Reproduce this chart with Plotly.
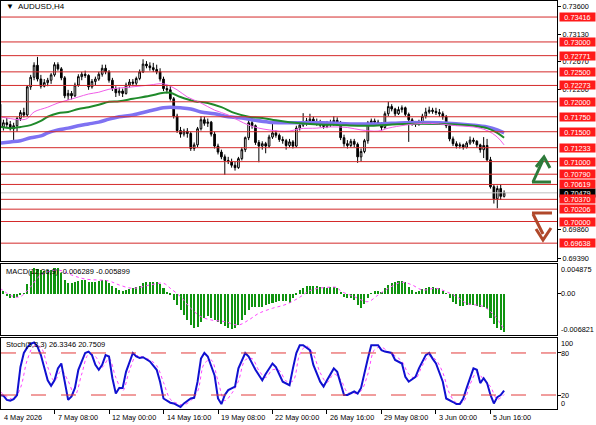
import plotly.graph_objects as go

FONT = "Liberation Sans, Arial, sans-serif"

# H4 bars, index 0 = first bar on the chart (4 May 2026)
opens = [
    0.7196, 0.7158, 0.7165, 0.7162, 0.7155, 0.7160, 0.7172, 0.7182, 0.7178, 0.7225,
    0.7241, 0.7261, 0.7238, 0.7226, 0.7232, 0.7236, 0.7245, 0.7262, 0.7255, 0.7240,
    0.7210, 0.7214, 0.7210, 0.7228, 0.7242, 0.7246, 0.7244, 0.7225, 0.7234, 0.7238,
    0.7246, 0.7256, 0.7250, 0.7236, 0.7222, 0.7215, 0.7218, 0.7214, 0.7228, 0.7233,
    0.7231, 0.7239, 0.7250, 0.7263, 0.7260, 0.7257, 0.7254, 0.7250, 0.7238, 0.7222,
    0.7220, 0.7205, 0.7176, 0.7152, 0.7146, 0.7151, 0.7147, 0.7122, 0.7128, 0.7155,
    0.7170, 0.7164, 0.7166, 0.7146, 0.7126, 0.7116, 0.7108, 0.7102, 0.7100, 0.7094,
    0.7090, 0.7105, 0.7120, 0.7140, 0.7165, 0.7160, 0.7132, 0.7126, 0.7130, 0.7126,
    0.7141, 0.7148, 0.7144, 0.7137, 0.7135, 0.7127, 0.7133, 0.7126, 0.7156, 0.7161,
    0.7166, 0.7168, 0.7171, 0.7167, 0.7165, 0.7161, 0.7159, 0.7164, 0.7163, 0.7169,
    0.7165, 0.7140, 0.7130, 0.7127, 0.7134, 0.7129, 0.7108, 0.7117, 0.7135, 0.7165,
    0.7168, 0.7166, 0.7164, 0.7157, 0.7180, 0.7192, 0.7188, 0.7180, 0.7187, 0.7190,
    0.7179, 0.7170, 0.7165, 0.7163, 0.7167, 0.7176, 0.7183, 0.7186, 0.7184, 0.7182,
    0.7180, 0.7175, 0.7160, 0.7138, 0.7130, 0.7126, 0.7128, 0.7124, 0.7131, 0.7136,
    0.7134, 0.7128, 0.7120, 0.7127, 0.7103, 0.7058, 0.7038, 0.7055, 0.7042,
]
highs = [
    0.7200, 0.7170, 0.7173, 0.7168, 0.7165, 0.7175, 0.7186, 0.7190, 0.7228, 0.7245,
    0.7266, 0.7275, 0.7245, 0.7238, 0.7240, 0.7248, 0.7266, 0.7266, 0.7258, 0.7243,
    0.7220, 0.7218, 0.7232, 0.7246, 0.7250, 0.7252, 0.7246, 0.7238, 0.7242, 0.7250,
    0.7262, 0.7262, 0.7253, 0.7240, 0.7226, 0.7224, 0.7222, 0.7232, 0.7238, 0.7238,
    0.7242, 0.7254, 0.7271, 0.7268, 0.7266, 0.7265, 0.7262, 0.7256, 0.7242, 0.7228,
    0.7226, 0.7208, 0.7180, 0.7158, 0.7155, 0.7156, 0.7150, 0.7132, 0.7158, 0.7176,
    0.7175, 0.7172, 0.7168, 0.7150, 0.7130, 0.7120, 0.7112, 0.7108, 0.7105, 0.7100,
    0.7108, 0.7124, 0.7142, 0.7170, 0.7168, 0.7162, 0.7136, 0.7134, 0.7133, 0.7145,
    0.7166, 0.7152, 0.7147, 0.7142, 0.7138, 0.7138, 0.7136, 0.7160, 0.7166, 0.7181,
    0.7173, 0.7180, 0.7175, 0.7172, 0.7170, 0.7166, 0.7168, 0.7170, 0.7176, 0.7174,
    0.7168, 0.7145, 0.7136, 0.7138, 0.7138, 0.7132, 0.7122, 0.7138, 0.7168, 0.7172,
    0.7172, 0.7170, 0.7166, 0.7184, 0.7200, 0.7196, 0.7190, 0.7192, 0.7194, 0.7192,
    0.7182, 0.7173, 0.7168, 0.7170, 0.7180, 0.7190, 0.7192, 0.7190, 0.7190, 0.7188,
    0.7184, 0.7178, 0.7162, 0.7142, 0.7134, 0.7132, 0.7130, 0.7134, 0.7142, 0.7140,
    0.7136, 0.7130, 0.7141, 0.7138, 0.7108, 0.7062, 0.7060, 0.7062, 0.7052,
]
lows = [
    0.7155, 0.7152, 0.7158, 0.7152, 0.7133, 0.7150, 0.7168, 0.7174, 0.7175, 0.7220,
    0.7236, 0.7234, 0.7222, 0.7224, 0.7226, 0.7230, 0.7242, 0.7252, 0.7236, 0.7206,
    0.7203, 0.7204, 0.7208, 0.7225, 0.7236, 0.7240, 0.7220, 0.7222, 0.7228, 0.7235,
    0.7242, 0.7246, 0.7232, 0.7218, 0.7208, 0.7210, 0.7208, 0.7212, 0.7224, 0.7226,
    0.7228, 0.7236, 0.7248, 0.7256, 0.7252, 0.7250, 0.7246, 0.7234, 0.7218, 0.7214,
    0.7202, 0.7172, 0.7148, 0.7140, 0.7142, 0.7140, 0.7118, 0.7118, 0.7124, 0.7152,
    0.7160, 0.7158, 0.7142, 0.7122, 0.7112, 0.7104, 0.7078, 0.7096, 0.7090, 0.7085,
    0.7088, 0.7102, 0.7116, 0.7136, 0.7155, 0.7128, 0.7099, 0.7120, 0.7114, 0.7123,
    0.7138, 0.7140, 0.7133, 0.7130, 0.7120, 0.7124, 0.7122, 0.7124, 0.7152, 0.7158,
    0.7160, 0.7164, 0.7163, 0.7160, 0.7158, 0.7155, 0.7156, 0.7158, 0.7160, 0.7160,
    0.7136, 0.7125, 0.7122, 0.7124, 0.7124, 0.7098, 0.7100, 0.7114, 0.7130, 0.7162,
    0.7161, 0.7160, 0.7152, 0.7155, 0.7176, 0.7184, 0.7176, 0.7178, 0.7182, 0.7176,
    0.7133, 0.7160, 0.7158, 0.7160, 0.7164, 0.7172, 0.7180, 0.7180, 0.7178, 0.7175,
    0.7170, 0.7156, 0.7134, 0.7126, 0.7122, 0.7122, 0.7120, 0.7122, 0.7128, 0.7130,
    0.7123, 0.7115, 0.7106, 0.7100, 0.7055, 0.7030, 0.7022, 0.7036, 0.7040,
]
closes = [
    0.7158, 0.7165, 0.7162, 0.7155, 0.7160, 0.7172, 0.7182, 0.7178, 0.7225, 0.7241,
    0.7261, 0.7238, 0.7226, 0.7232, 0.7236, 0.7245, 0.7262, 0.7255, 0.7240, 0.7210,
    0.7214, 0.7210, 0.7228, 0.7242, 0.7246, 0.7244, 0.7225, 0.7234, 0.7238, 0.7246,
    0.7256, 0.7250, 0.7236, 0.7222, 0.7215, 0.7218, 0.7214, 0.7228, 0.7233, 0.7231,
    0.7239, 0.7250, 0.7263, 0.7260, 0.7257, 0.7254, 0.7250, 0.7238, 0.7222, 0.7220,
    0.7205, 0.7176, 0.7152, 0.7146, 0.7151, 0.7147, 0.7122, 0.7128, 0.7155, 0.7170,
    0.7164, 0.7166, 0.7146, 0.7126, 0.7116, 0.7108, 0.7102, 0.7100, 0.7094, 0.7090,
    0.7105, 0.7120, 0.7140, 0.7165, 0.7160, 0.7132, 0.7126, 0.7130, 0.7126, 0.7141,
    0.7148, 0.7144, 0.7137, 0.7135, 0.7127, 0.7133, 0.7126, 0.7156, 0.7161, 0.7166,
    0.7168, 0.7171, 0.7167, 0.7165, 0.7161, 0.7159, 0.7164, 0.7163, 0.7169, 0.7165,
    0.7140, 0.7130, 0.7127, 0.7134, 0.7129, 0.7108, 0.7117, 0.7135, 0.7165, 0.7168,
    0.7166, 0.7164, 0.7157, 0.7180, 0.7192, 0.7188, 0.7180, 0.7187, 0.7190, 0.7179,
    0.7170, 0.7165, 0.7163, 0.7167, 0.7176, 0.7183, 0.7186, 0.7184, 0.7182, 0.7180,
    0.7175, 0.7160, 0.7138, 0.7130, 0.7126, 0.7128, 0.7124, 0.7131, 0.7136, 0.7134,
    0.7128, 0.7120, 0.7127, 0.7103, 0.7058, 0.7038, 0.7055, 0.7042, 0.70479,
]

# moving averages, read at a few bars
ma_fast_bar = [0, 3, 6, 8, 10, 14, 17, 20, 23, 26, 29, 32, 35, 39, 44, 48, 52, 55, 59, 63, 67,
               70, 73, 76, 79, 82, 85, 88, 93, 97, 102, 106, 111, 114, 119, 124, 129, 134,
               139, 143, 146, 148]
ma_fast_val = [0.7175, 0.7172, 0.7170, 0.7172, 0.7183, 0.7191, 0.7198, 0.7203, 0.7208, 0.7213,
               0.7216, 0.7221, 0.7223, 0.7225, 0.7228, 0.7230, 0.7220, 0.7208, 0.7198, 0.7186,
               0.7178, 0.7169, 0.7161, 0.7156, 0.7153, 0.7151, 0.7151, 0.7155, 0.7156, 0.7158,
               0.7157, 0.7153, 0.7151, 0.7156, 0.7161, 0.7164, 0.7163, 0.7160, 0.7158, 0.7152,
               0.7141, 0.7128]
ma_mid_bar = [0, 3, 6, 9, 12, 14, 17, 20, 23, 26, 29, 32, 35, 39, 44, 48, 50, 53, 57, 61, 65,
              69, 73, 77, 81, 85, 91, 100, 105, 109, 119, 129, 139, 143, 146, 148]
ma_mid_val = [0.7158, 0.7156, 0.7158, 0.7161, 0.7168, 0.7175, 0.7181, 0.7183, 0.7188, 0.7191,
              0.7195, 0.7200, 0.7201, 0.7205, 0.7210, 0.7215, 0.7215, 0.7208, 0.7201, 0.7198,
              0.7191, 0.7181, 0.7175, 0.7173, 0.7169, 0.7166, 0.7163, 0.7161, 0.7160, 0.7160,
              0.7163, 0.7163, 0.7160, 0.7156, 0.7148, 0.7140]
ma_slow_bar = [0, 3, 6, 9, 12, 14, 17, 20, 23, 26, 29, 32, 35, 39, 44, 48, 50, 53, 56, 59, 63,
               67, 71, 75, 79, 83, 88, 95, 103, 111, 119, 129, 139, 143, 146, 148]
ma_slow_val = [0.7131, 0.7133, 0.7135, 0.7140, 0.7143, 0.7148, 0.7153, 0.7156, 0.7160, 0.7163,
               0.7166, 0.7171, 0.7175, 0.7178, 0.7185, 0.7190, 0.7191, 0.7190, 0.7188, 0.7183,
               0.7180, 0.7175, 0.7173, 0.7169, 0.7166, 0.7165, 0.7165, 0.7165, 0.7163, 0.7163,
               0.7165, 0.7165, 0.7161, 0.7158, 0.7153, 0.7148]

# MACD(12,26,9): histogram per bar, signal read at a few bars
macd_hist = [
    0.00087, 0.00043, -0.00034, -0.00067, -0.00078, -0.00050, -0.00023, 0.00004, 0.00153, 0.00372,
    0.00416, 0.00405, 0.00389, 0.00372, 0.00389, 0.00389, 0.00416, 0.00416, 0.00334, 0.00224,
    0.00169, 0.00169, 0.00197, 0.00213, 0.00224, 0.00224, 0.00197, 0.00197, 0.00197, 0.00207,
    0.00224, 0.00224, 0.00169, 0.00131, 0.00087, 0.00059, 0.00043, 0.00059, 0.00076, 0.00098,
    0.00114, 0.00131, 0.00169, 0.00186, 0.00186, 0.00186, 0.00186, 0.00153, 0.00087, 0.00032,
    -0.00012, -0.00105, -0.00188, -0.00270, -0.00352, -0.00435, -0.00517, -0.00572, -0.00545, -0.00462,
    -0.00407, -0.00369, -0.00396, -0.00435, -0.00462, -0.00506, -0.00528, -0.00561, -0.00583, -0.00572,
    -0.00517, -0.00435, -0.00352, -0.00270, -0.00215, -0.00215, -0.00215, -0.00215, -0.00188, -0.00177,
    -0.00160, -0.00133, -0.00122, -0.00122, -0.00122, -0.00160, -0.00078, -0.00010, 0.00059, 0.00098,
    0.00120, 0.00131, 0.00131, 0.00120, 0.00109, 0.00103, 0.00098, 0.00103, 0.00109, 0.00087,
    0.00021, -0.00050, -0.00067, -0.00078, -0.00105, -0.00188, -0.00232, -0.00177, -0.00067, 0.00004,
    0.00043, 0.00043, 0.00032, 0.00087, 0.00142, 0.00169, 0.00186, 0.00207, 0.00213, 0.00197,
    0.00114, 0.00059, 0.00032, 0.00043, 0.00076, 0.00098, 0.00109, 0.00114, 0.00098, 0.00087,
    0.00043, -0.00001, -0.00078, -0.00133, -0.00177, -0.00199, -0.00199, -0.00188, -0.00188, -0.00188,
    -0.00199, -0.00215, -0.00215, -0.00254, -0.00396, -0.00506, -0.00561, -0.00599, -0.006289,
]
signal_bar = [0, 4, 6, 9, 12, 17, 21, 25, 32, 35, 39, 44, 48, 50, 53, 56, 59, 62, 66, 70, 73,
              76, 80, 84, 88, 90, 92, 95, 99, 100, 104, 108, 111, 114, 118, 121, 124, 128, 131,
              134, 137, 142, 145, 148]
signal_val = [0.00087, -0.00050, -0.00050, 0.00114, 0.00306, 0.00389, 0.00306, 0.00240, 0.00207,
              0.00142, 0.00087, 0.00142, 0.00169, 0.00087, -0.00050, -0.00242, -0.00380, -0.00435,
              -0.00462, -0.00517, -0.00435, -0.00325, -0.00242, -0.00177, -0.00060, 0.00020,
              0.00070, 0.00098, 0.00098, 0.00043, -0.00050, -0.00133, -0.00023, 0.00087, 0.00186,
              0.00142, 0.00059, 0.00087, 0.00032, -0.00050, -0.00160, -0.00215, -0.00352, -0.005899]

# Stochastic(5,3,3)
stoch_k_bar = [0, 1, 2, 3, 4, 5, 6, 7, 8, 9, 10, 11, 12, 13, 14, 15, 16, 17, 18, 19, 20, 21, 22,
               23, 25, 26, 27, 28, 29, 30, 31, 32, 33, 34, 35, 36, 37, 39, 40, 41, 42, 44, 46, 47,
               48, 50, 51, 53, 54, 56, 57, 58, 59, 60, 61, 63, 64, 65, 66, 67, 69, 70, 72, 73, 75,
               77, 78, 80, 81, 83, 85, 86, 87, 88, 89, 91, 92, 94, 95, 96, 98, 99, 101, 102, 104,
               105, 106, 108, 109, 111, 112, 113, 115, 116, 118, 119, 120, 122, 123, 125, 126,
               127, 128, 130, 131, 133, 134, 135, 136, 137, 139, 140, 141, 142, 143, 144, 145,
               146, 147, 148]
stoch_k_val = [20, 19, 13, 12, 14, 20, 60, 80, 88, 93, 95, 89, 77, 58, 41, 33, 41, 58, 65, 39, 13,
               18, 30, 56, 80, 82, 77, 63, 56, 63, 77, 75, 44, 22, 30, 30, 53, 80, 75, 73, 74, 68,
               56, 39, 15, 9, 8, 3, 8, 15, 16, 39, 72, 80, 75, 48, 15, 7, 20, 27, 32, 58, 80, 75,
               56, 41, 50, 65, 60, 39, 34, 58, 80, 91, 91, 84, 63, 39, 32, 41, 58, 53, 20, 20, 25,
               22, 30, 72, 91, 91, 84, 82, 80, 70, 65, 46, 39, 46, 58, 77, 80, 72, 65, 39, 15, 10,
               7, 7, 15, 30, 58, 56, 37, 44, 37, 20, 8, 17, 20, 26.3346]
stoch_d_bar = [0, 2, 4, 6, 8, 10, 12, 14, 16, 18, 20, 22, 24, 26, 28, 30, 32, 34, 36, 38, 40, 42,
               44, 46, 48, 50, 52, 54, 56, 58, 60, 62, 64, 66, 68, 70, 72, 74, 76, 78, 80, 82, 84,
               86, 88, 90, 92, 94, 96, 98, 100, 102, 104, 106, 108, 110, 112, 114, 116, 118, 120,
               122, 124, 126, 128, 130, 132, 134, 136, 138, 140, 142, 144, 146, 148]
stoch_d_val = [25, 18, 14, 30, 70, 90, 88, 60, 40, 55, 40, 20, 50, 78, 75, 60, 72, 45, 26, 55, 76,
               74, 70, 62, 38, 14, 8, 6, 12, 25, 65, 70, 40, 12, 22, 40, 70, 72, 55, 45, 56, 55,
               40, 40, 78, 90, 78, 52, 38, 50, 42, 24, 22, 26, 50, 85, 88, 82, 76, 68, 50, 44, 62,
               76, 70, 52, 22, 9, 10, 35, 52, 42, 32, 14, 20.7509]

# support / resistance levels and last price
levels = [0.73416, 0.73000, 0.72771, 0.72500, 0.72273, 0.72000, 0.71750, 0.71500, 0.71233,
          0.71000, 0.70790, 0.70619, 0.70370, 0.70206, 0.70000, 0.69638]
last_price = 0.70479
price_ticks = [0.73600, 0.73130, 0.72670, 0.72200, 0.69860, 0.69390]

time_bar = [0, 16, 32, 48, 64, 80, 96, 112, 128, 144]
time_text = ["4 May 2026", "7 May 08:00", "12 May 00:00", "14 May 16:00", "19 May 08:00",
             "22 May 00:00", "26 May 16:00", "29 May 08:00", "3 Jun 00:00", "5 Jun 16:00"]

bars = list(range(len(closes)))

# pixel geometry of the window (MetaTrader style)
W, H = 596, 425
ML, MR, MT, MB = 1, 39, 1, 16
PW, PH = W - ML - MR, H - MT - MB


def paper_xy(px, py):
    return (px - ML) / PW, (H - MB - py) / PH


fig = go.Figure()

fig.add_trace(go.Candlestick(
    x=bars, open=opens, high=highs, low=lows, close=closes,
    increasing=dict(line=dict(color="#000000", width=1), fillcolor="#ffffff"),
    decreasing=dict(line=dict(color="#000000", width=1), fillcolor="#000000"),
    xaxis="x", yaxis="y", showlegend=False, hoverinfo="skip",
))
fig.add_trace(go.Scatter(x=ma_slow_bar, y=ma_slow_val, mode="lines", line=dict(color="#7f72f2", width=3.5, shape="spline"),
                         xaxis="x", yaxis="y", showlegend=False))
fig.add_trace(go.Scatter(x=ma_mid_bar, y=ma_mid_val, mode="lines", line=dict(color="#1f8a2a", width=2, shape="spline"),
                         xaxis="x", yaxis="y", showlegend=False))
fig.add_trace(go.Scatter(x=ma_fast_bar, y=ma_fast_val, mode="lines", line=dict(color="#f05ee8", width=1, shape="spline"),
                         xaxis="x", yaxis="y", showlegend=False))

fig.add_trace(go.Bar(x=bars, y=macd_hist, width=0.6, marker=dict(color="#109410", line=dict(width=0)),
                     xaxis="x2", yaxis="y2", showlegend=False))
fig.add_trace(go.Scatter(x=signal_bar, y=signal_val, mode="lines",
                         line=dict(color="#ff44ff", width=1, dash="dot", shape="spline"),
                         xaxis="x2", yaxis="y2", showlegend=False))

fig.add_trace(go.Scatter(x=stoch_d_bar, y=stoch_d_val, mode="lines",
                         line=dict(color="#ff44ff", width=1, dash="dot", shape="spline"),
                         xaxis="x3", yaxis="y3", showlegend=False))
fig.add_trace(go.Scatter(x=stoch_k_bar, y=stoch_k_val, mode="lines", line=dict(color="#1010d0", width=2),
                         xaxis="x3", yaxis="y3", showlegend=False))

xrange = [0.29, 0.29 + PW / 3.406]
frame = dict(showline=True, mirror=True, linecolor="#000000", linewidth=1,
             showgrid=False, zeroline=False)
tickfont = dict(family=FONT, size=7.3, color="#000000")


def dom(top_px, bottom_px):
    return [(H - MB - bottom_px) / PH, (H - MB - top_px) / PH]


fig.update_layout(
    width=W, height=H,
    margin=dict(l=ML, r=MR, t=MT, b=MB),
    paper_bgcolor="#ffffff", plot_bgcolor="#ffffff",
    bargap=0, showlegend=False,
    xaxis=dict(domain=[0, 1], anchor="y", range=xrange, showticklabels=False, ticks="",
               rangeslider=dict(visible=False), **frame),
    xaxis2=dict(domain=[0, 1], anchor="y2", range=xrange, matches="x", showticklabels=False, ticks="", **frame),
    xaxis3=dict(domain=[0, 1], anchor="y3", range=xrange, matches="x", showticklabels=False,
                tickvals=time_bar, ticks="outside", ticklen=4, tickcolor="#000000", **frame),
    yaxis=dict(domain=dom(1, 261), anchor="x", side="right", range=[0.69340, 0.73684],
               tickvals=price_ticks, ticktext=[f"{v:.5f}" for v in price_ticks],
               ticks="outside", ticklen=3, tickcolor="#000000", tickfont=tickfont, **frame),
    yaxis2=dict(domain=dom(264, 335), anchor="x2", side="right", range=[-0.006821, 0.004875],
                tickvals=[0], ticks="outside", ticklen=3, tickcolor="#000000", showticklabels=False, **frame),
    yaxis3=dict(domain=dom(338, 409), anchor="x3", side="right", range=[0, 101.4],
                tickvals=[20, 80], ticks="outside", ticklen=3, tickcolor="#000000", showticklabels=False, **frame),
)

# level lines
fig.add_shape(type="line", xref="x domain", x0=0, x1=1, yref="y", y0=last_price, y1=last_price,
              line=dict(color="#c0c0c0", width=1))
for lvl in levels:
    fig.add_shape(type="line", xref="x domain", x0=0, x1=1, yref="y", y0=lvl, y1=lvl,
                  line=dict(color="#d42a2a", width=1))
for lvl in (20, 80):
    fig.add_shape(type="line", xref="x3 domain", x0=0, x1=1, yref="y3", y0=lvl, y1=lvl,
                  line=dict(color="#e23a3a", width=1, dash="longdash"))

# direction arrows at the right edge of the price panel
up_pts = [(532, 182), (551, 182), (533, 182), (543, 160)]
up_head = [(536, 167), (544, 157), (550, 168)]
dn_pts = [(532, 213), (552, 213), (533, 214), (543, 234)]
dn_head = [(536, 229), (543, 240), (551, 228)]


def path_of(pts):
    return "M " + " L ".join(f"{paper_xy(*p)[0]:.5f},{paper_xy(*p)[1]:.5f}" for p in pts)


for pts, col in ((up_pts[:2], "#2d7a3a"), (up_pts[2:], "#2d7a3a"), (up_head, "#2d7a3a"),
                 (dn_pts[:2], "#b0482a"), (dn_pts[2:], "#b0482a"), (dn_head, "#b0482a")):
    fig.add_shape(type="path", xref="paper", yref="paper", path=path_of(pts),
                  line=dict(color=col, width=3))

ann = []
ann.append(dict(xref="paper", x=1, xanchor="left", xshift=2, yref="y", y=last_price, yanchor="middle",
                text=f"{last_price:.5f}", font=dict(family=FONT, size=7.3, color="#ffffff"),
                bgcolor="#000000", borderpad=0, width=35, height=8, showarrow=False))
for lvl in levels:
    ann.append(dict(xref="paper", x=1, xanchor="left", xshift=2, yref="y", y=lvl, yanchor="middle",
                    text=f"{lvl:.5f}", font=dict(family=FONT, size=7.3, color="#ffffff"),
                    bgcolor="#ff1a1a", borderpad=0, width=35, height=8, showarrow=False))

# sub-window scale labels
for txt, py in (("0.004875", 269), ("0.00", 293), ("-0.006821", 329),
                ("100", 343), ("80", 353), ("20", 395), ("0", 403)):
    ann.append(dict(xref="paper", x=1, xanchor="left", xshift=2, yref="paper", y=paper_xy(0, py)[1],
                    yanchor="middle", text=txt, font=tickfont, showarrow=False))

# time labels, left-aligned at their bar (first one sits on the left edge)
for b, txt in zip(time_bar, time_text):
    xp = max(0.0, (b - xrange[0]) / (xrange[1] - xrange[0]))
    ann.append(dict(xref="paper", x=xp, xanchor="left", xshift=1, yref="paper", y=0, yanchor="top", yshift=-2,
                    text=txt, font=tickfont, showarrow=False))

# window titles
ann.append(dict(xref="paper", x=paper_xy(4, 0)[0], xanchor="left", yref="paper", y=paper_xy(0, 7)[1],
                yanchor="middle", text="\u25bc  AUDUSD,H4", font=dict(family=FONT, size=8, color="#000000"),
                showarrow=False))
ann.append(dict(xref="paper", x=paper_xy(4, 0)[0], xanchor="left", yref="paper", y=paper_xy(0, 271)[1],
                yanchor="middle", text="MACD(12,26,9) -0.006289 -0.005899",
                font=dict(family=FONT, size=7.5, color="#000000"), showarrow=False))
ann.append(dict(xref="paper", x=paper_xy(4, 0)[0], xanchor="left", yref="paper", y=paper_xy(0, 344)[1],
                yanchor="middle", text="Stoch(5,3,3) 26.3346 20.7509",
                font=dict(family=FONT, size=7.5, color="#000000"), showarrow=False))

fig.update_layout(annotations=ann)

# the page's default body margin would shift the chart by 8px
fig.write_html("out.html", config={"displayModeBar": False},
               post_script="document.body.style.margin='0px';")
